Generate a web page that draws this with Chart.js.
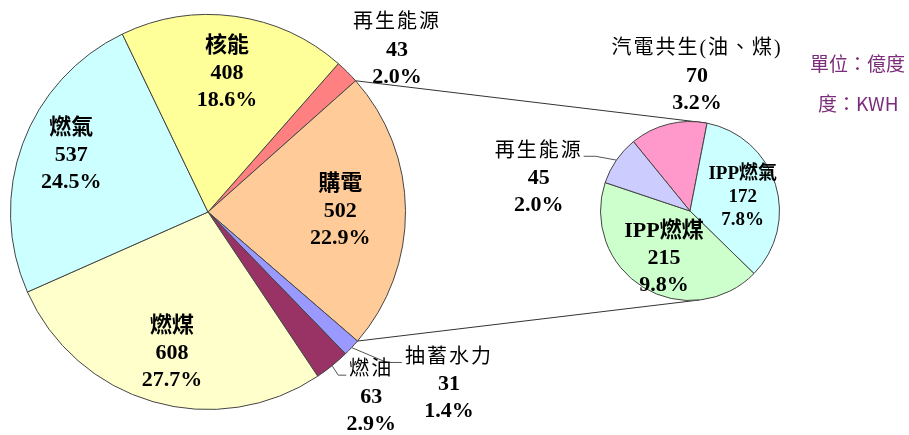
<!DOCTYPE html>
<html>
<head>
<meta charset="utf-8">
<script src="https://cdn.jsdelivr.net/npm/chart.js@4"></script>
<style>
  body { margin: 0; background: #fff; }
  #wrap { position: relative; width: 909px; height: 435px; }
  #wrap canvas { position: absolute; left: 0; top: 0; }
  .unit { position: absolute; color: #7b2c7b; font: 19px "Noto Sans CJK TC", "Noto Sans", sans-serif; white-space: nowrap; }
</style>
</head>
<body>
<div id="wrap">
  <canvas id="mainPie" width="909" height="435"></canvas>
  <canvas id="subPie" width="909" height="435"></canvas>
  <div class="unit" style="left:810px; top:49px;">單位：億度</div>
  <div class="unit" style="left:818px; top:89px;">度：KWH</div>
</div>
<script>
// main pie (億度)
const mainLabels = ["再生能源", "購電", "抽蓄水力", "燃油", "燃煤", "燃氣", "核能"];
const mainValues = [43, 502, 31, 63, 608, 537, 408];
const mainPercents = ["2.0%", "22.9%", "1.4%", "2.9%", "27.7%", "24.5%", "18.6%"];
const mainColors = ["#ff8080", "#ffcc99", "#9999ff", "#993366", "#ffffcc", "#ccffff", "#ffff99"];

// breakdown of 購電
const subLabels = ["汽電共生(油、煤)", "IPP燃氣", "IPP燃煤", "再生能源"];
const subValues = [70, 172, 215, 45];
const subPercents = ["3.2%", "7.8%", "9.8%", "2.0%"];
const subColors = ["#ff99cc", "#ccffff", "#ccffcc", "#ccccff"];

const SERIF = '"Liberation Serif", "Noto Sans CJK TC", serif';

// label placement: a = angle from top (deg, null = slice middle), d = distance / radius
const mainLayout = [
  { a: 49.4, d: 1.26, size: 22, lh: 27, outside: true },
  { a: null, d: 0.67, size: 22, lh: 27 },
  { a: 125.6, d: 1.5, size: 22, lh: 27, outside: true, leader: "left", h: 15 },
  { a: 138.6, d: 1.25, size: 22, lh: 27, outside: true, leader: "left", h: 8 },
  { a: 194.3, d: 0.74, size: 22, lh: 27 },
  { a: 292.7, d: 0.75, size: 22, lh: 27 },
  { a: null, d: 0.71, size: 22, lh: 27 }
];
const subLayout = [
  { a: 3, d: 1.51, size: 22, lh: 27, outside: true },
  { a: 75, d: 0.61, size: 19, lh: 23 },
  { a: 209, d: 0.6, size: 22, lh: 27 },
  { a: 282.2, d: 1.73, size: 22, lh: 27, outside: true, leader: "right", h: 12 }
];

const sliceLabels = {
  id: "sliceLabels",
  afterDatasetsDraw(chart, args, opts) {
    const ctx = chart.ctx;
    const meta = chart.getDatasetMeta(0);
    meta.data.forEach((arc, i) => {
      const lay = opts.layout[i];
      const r = arc.outerRadius;
      const mid = (arc.startAngle + arc.endAngle) / 2;
      const ang = lay.a == null ? mid : (lay.a - 90) * Math.PI / 180;
      const cx = arc.x + Math.cos(ang) * r * lay.d;
      const cy = arc.y + Math.sin(ang) * r * lay.d;
      const name = chart.data.labels[i];
      const lines = [name, String(chart.data.datasets[0].data[i]), opts.percents[i]];
      // outside names are set lighter and a bit smaller
      const nameSize = lay.outside ? 20 : lay.size;

      ctx.save();
      ctx.fillStyle = "#000";
      ctx.textAlign = "center";
      ctx.textBaseline = "middle";
      lines.forEach((t, k) => {
        const isName = k == 0;
        const sz = isName ? nameSize : lay.size;
        ctx.font = (isName && lay.outside ? "" : "bold ") + sz + "px " + SERIF;
        ctx.letterSpacing = isName && lay.outside ? "2px" : "0px";
        ctx.fillText(t, cx, cy + (k - 1) * lay.lh);
      });

      if (lay.leader) {
        ctx.font = nameSize + "px " + SERIF;
        ctx.letterSpacing = "2px";
        const w = ctx.measureText(name).width;
        const ny = cy - lay.lh + 5;
        let endX, elbowX;
        if (lay.leader == "left") {
          endX = cx - w / 2 - 3;
          elbowX = endX - lay.h;
        } else {
          endX = cx + w / 2 + 1;
          elbowX = endX + lay.h;
        }
        ctx.strokeStyle = "#555";
        ctx.lineWidth = 1;
        ctx.beginPath();
        ctx.moveTo(arc.x + Math.cos(mid) * r, arc.y + Math.sin(mid) * r);
        ctx.lineTo(elbowX, ny);
        ctx.lineTo(endX, ny);
        ctx.stroke();
      }
      ctx.restore();
    });
  }
};

function pieOptions(rotation, padding, layout, percents) {
  return {
    responsive: false,
    animation: false,
    rotation: rotation,
    layout: { padding: padding, autoPadding: false },
    events: [],
    plugins: {
      legend: { display: false },
      tooltip: { enabled: false },
      sliceLabels: { layout: layout, percents: percents }
    }
  };
}

const mainChart = new Chart(document.getElementById("mainPie"), {
  type: "pie",
  data: {
    labels: mainLabels,
    datasets: [{
      data: mainValues,
      backgroundColor: mainColors,
      borderColor: "#444",
      borderWidth: 1,
      hoverOffset: 0
    }]
  },
  options: pieOptions(41.3, { left: 10, top: 14, right: 503, bottom: 25 }, mainLayout, mainPercents),
  plugins: [sliceLabels]
});

// lines joining 購電 to its breakdown pie
const connectors = {
  id: "connectors",
  beforeDatasetsDraw(chart) {
    const big = mainChart.getDatasetMeta(0).data[1];
    const small = chart.getDatasetMeta(0).data[0];
    const ctx = chart.ctx;
    const ends = [10.5, 174].map(a => (a - 90) * Math.PI / 180);
    const starts = [big.startAngle, big.endAngle];
    ctx.save();
    ctx.strokeStyle = "#333";
    ctx.lineWidth = 1;
    for (let k = 0; k < 2; k++) {
      ctx.beginPath();
      ctx.moveTo(big.x + Math.cos(starts[k]) * big.outerRadius, big.y + Math.sin(starts[k]) * big.outerRadius);
      ctx.lineTo(small.x + Math.cos(ends[k]) * small.outerRadius, small.y + Math.sin(ends[k]) * small.outerRadius);
      ctx.stroke();
    }
    ctx.restore();
  }
};

const subChart = new Chart(document.getElementById("subPie"), {
  type: "pie",
  data: {
    labels: subLabels,
    datasets: [{
      data: subValues,
      backgroundColor: subColors,
      borderColor: "#444",
      borderWidth: 1,
      hoverOffset: 0
    }]
  },
  options: pieOptions(-39.2, { left: 600, top: 121, right: 129, bottom: 134 }, subLayout, subPercents),
  plugins: [connectors, sliceLabels]
});
</script>
</body>
</html>
